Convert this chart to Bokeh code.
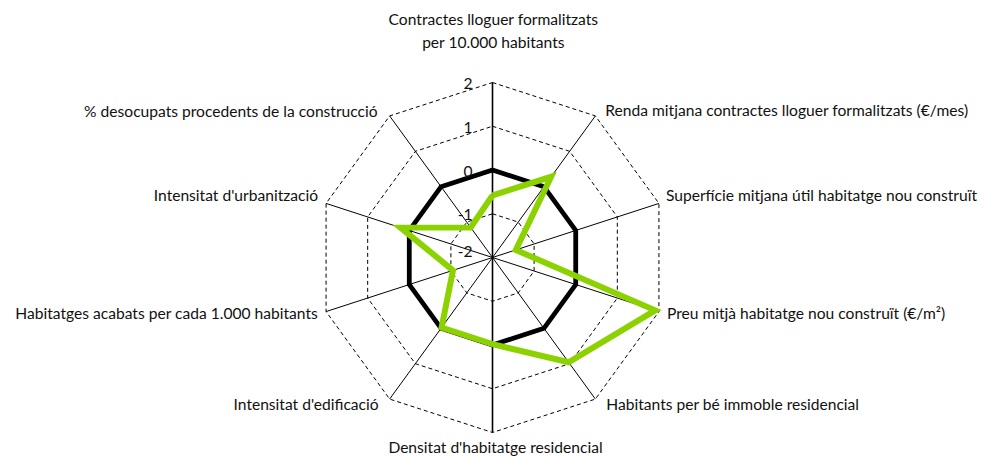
import numpy as np
from bokeh.plotting import figure
from bokeh.models import Range1d
from bokeh.core.properties import value
from bokeh.embed import file_html
from bokeh.resources import INLINE

# ---------------- data ----------------
categories = [
    "Contractes lloguer formalitzats\nper 10.000 habitants",
    "Renda mitjana contractes lloguer formalitzats (€/mes)",
    "Superfície mitjana útil habitatge nou construït",
    "Preu mitjà habitatge nou construït (€/m²)",
    "Habitants per bé immoble residencial",
    "Densitat d'habitatge residencial",
    "Intensitat d'edificació",
    "Habitatges acabats per cada 1.000 habitants",
    "Intensitat d'urbanització",
    "% desocupats procedents de la construcció",
]
municipi = [-0.58, 0.28, -1.44, 1.91, 0.96, -0.02, -0.02, -1.05, 0.21, -1.15]
referencia = [0, 0, 0, 0, 0, 0, 0, 0, 0, 0]
ticks = [-2, -1, 0, 1, 2]
tick_labels = ["-2", "-1", "0", "1", "2"]

# ---------------- layout / style ----------------
FONT = "Lato"
FS = "15.6px"
R = 175.0
VMIN, VMAX = ticks[0], ticks[-1]
GREEN = "#8cd200"
# label offsets (px) from the outer vertex: (dx, dy up)
label_off = [(1, 41), (10, 6), (7, 8), (8, -1), (11, -5), (3, -14),
             (-11, -5), (-8, -1.5), (-8, 8), (-12, 5)]
label_align = ["center", "left", "left", "left", "left", "center",
               "right", "right", "right", "right"]

n = len(categories)
theta = np.arange(n) * 2 * np.pi / n


def rad(v):
    return (np.asarray(v, dtype=float) - VMIN) / (VMAX - VMIN) * R


def xy(vals):
    r = rad(vals)
    return r * np.sin(theta), r * np.cos(theta)


W, H = 984, 458
CX, CY = 492, 257
p = figure(width=W, height=H, output_backend="svg", toolbar_location=None,
           x_range=Range1d(-CX, W - CX), y_range=Range1d(-(H - CY), CY),
           min_border=0)
p.axis.visible = False
p.grid.visible = False
p.outline_line_color = None
p.background_fill_color = "white"

# dashed rings
for t in ticks:
    if t == 0 or rad(t) <= 0:
        continue
    x, y = xy([t] * n)
    p.line(list(x) + [x[0]], list(y) + [y[0]], line_color="black",
           line_width=1, line_dash="4 3")

# spokes
xo, yo = xy([VMAX] * n)
for i in range(n):
    p.line([0, xo[i]], [0, yo[i]], line_color="black",
           line_width=1.6 if i in (0, 5) else 1)

# reference (0) series
x, y = xy(referencia)
p.line(list(x) + [x[0]], list(y) + [y[0]], line_color="black",
       line_width=4.8, line_join="miter")

# municipality series
x, y = xy(municipi)
p.line(list(x) + [x[0]], list(y) + [y[0]], line_color=GREEN,
       line_width=6, line_join="miter")

# tick labels
for t, lab in zip(ticks, tick_labels):
    ty = max(float(rad(t)) - 1, 6)
    p.text(x=[-20], y=[ty], text=[lab], text_align="right",
           text_baseline="middle", text_font=value(FONT),
           text_font_size=FS, text_color="#111111")

# category labels
for i, cat in enumerate(categories):
    dx, dy = label_off[i]
    lines = cat.split("\n")
    for j, line in enumerate(lines):
        ly = yo[i] + dy + (len(lines) - 1 - j) * 22.5
        p.text(x=[xo[i] + dx], y=[ly], text=[line], text_align=label_align[i],
               text_baseline="middle", text_font=value(FONT),
               text_font_size=FS, text_color="#111111")

open("out.html", "w").write(file_html(p, INLINE))
